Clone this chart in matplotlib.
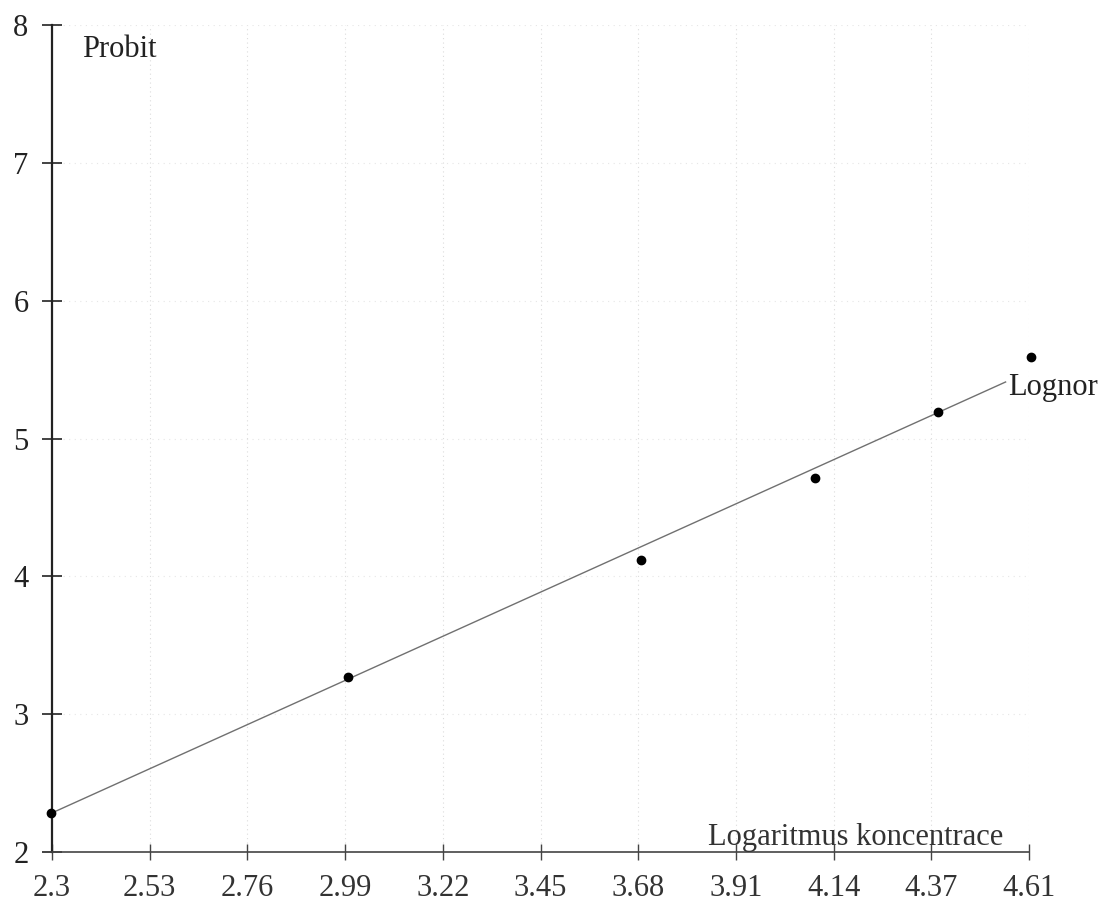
import numpy as np
import matplotlib
matplotlib.use("Agg")
import matplotlib.pyplot as plt

plt.rcParams['font.family'] = ['Liberation Serif', 'DejaVu Serif']

# measured points (log concentration vs probit)
log_conc = [2.30, 3.00, 3.69, 4.10, 4.39, 4.61]
probit = [2.28, 3.27, 4.12, 4.71, 5.19, 5.59]

# fitted line end points
fit_x = [2.30, 4.55]
fit_y = [2.28, 5.41]

xticks = [2.3026, 2.5328, 2.7631, 2.9934, 3.2236, 3.4539, 3.6841, 3.9144, 4.1447, 4.3749, 4.6052]
xlabels = ['2.3', '2.53', '2.76', '2.99', '3.22', '3.45', '3.68', '3.91', '4.14', '4.37', '4.61']
yticks = [2, 3, 4, 5, 6, 7, 8]

fs = 22

fig = plt.figure(figsize=(11, 9.06), dpi=100)
ax = fig.add_axes([52/1100, 1-852/906, (1029-52)/1100, (852-25)/906])

# faint dotted grid
for xv in xticks[1:]:
    ax.axvline(xv, color='#dcdcdc', lw=0.8, ls=(0, (1, 3)), zorder=0)
for yv in yticks[1:]:
    ax.axhline(yv, color='#e6e6e6', lw=0.8, ls=(0, (1, 4)), zorder=0)

ax.plot(fit_x, fit_y, color='#707070', lw=1.0, zorder=2)
ax.plot(log_conc, probit, 'o', color='black', ms=6, zorder=3, clip_on=False)

ax.set_xlim(xticks[0], xticks[-1])
ax.set_ylim(2, 8)
ax.set_xticks(xticks)
ax.set_xticklabels(xlabels)
ax.set_yticks(yticks)

for s in ('top', 'right'):
    ax.spines[s].set_visible(False)
ax.spines['left'].set_linewidth(1.6)
ax.spines['left'].set_color('#222222')
ax.spines['bottom'].set_linewidth(1.2)
ax.spines['bottom'].set_color('#444444')

ax.tick_params(axis='x', direction='inout', length=12, width=1.0, pad=10,
               labelsize=fs, colors='#444444', labelcolor='#333333')
ax.tick_params(axis='y', direction='inout', length=14, width=1.2, pad=10,
               labelsize=fs, colors='#222222', labelcolor='#222222')

ax.text(2.373, 7.82, 'Probit', fontsize=fs, va='center', ha='left', color='#222222')
ax.text(4.545, 0.017, 'Logaritmus koncentrace', fontsize=fs, va='center', ha='right',
        color='#333333', transform=ax.get_xaxis_transform())
ax.text(4.555, 5.37, 'Lognor', fontsize=fs, va='center', ha='left', color='#222222',
        clip_on=False)

fig.savefig('out.png', dpi=100)
